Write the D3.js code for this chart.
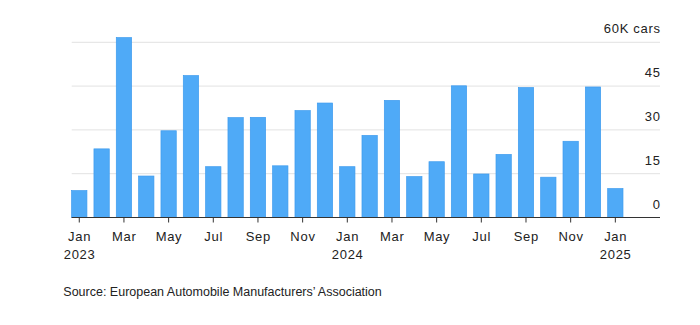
<!DOCTYPE html>
<html>
<head>
<meta charset="utf-8">
<script src="https://cdn.jsdelivr.net/npm/d3@7"></script>
<style>
  html, body { margin: 0; padding: 0; background: #fff; }
  svg { display: block; font-family: "Liberation Sans", Arial, Helvetica, sans-serif; }
</style>
</head>
<body>
<svg id="chart" width="700" height="325"></svg>
<script>
// Monthly registrations, thousands of cars, Jan 2023 – Jan 2025
const months = [
  "2023-01", "2023-02", "2023-03", "2023-04", "2023-05", "2023-06",
  "2023-07", "2023-08", "2023-09", "2023-10", "2023-11", "2023-12",
  "2024-01", "2024-02", "2024-03", "2024-04", "2024-05", "2024-06",
  "2024-07", "2024-08", "2024-09", "2024-10", "2024-11", "2024-12",
  "2025-01"
];
const cars = [
  9.2, 23.5, 61.6, 14.2, 29.7, 48.6,
  17.4, 34.2, 34.3, 17.7, 36.6, 39.2,
  17.4, 28.1, 40.1, 14.0, 19.1, 45.1,
  14.9, 21.6, 44.5, 13.8, 26.1, 44.7,
  9.9
];
const yTicks = [0, 15, 30, 45, 60];
const monthNames = ["Jan", "Feb", "Mar", "Apr", "May", "Jun", "Jul", "Aug", "Sep", "Oct", "Nov", "Dec"];
const sourceNote = "Source: European Automobile Manufacturers’ Association";

const svg = d3.select("#chart");
const textColor = "#222";
const gridLeft = 71.7, gridRight = 660;
const labelSpacing = 0.7;

const x = d3.scaleBand()
  .domain(months)
  .range([68.1, 626.5])
  .paddingInner(0.315)
  .paddingOuter(0.1575);

const y = d3.scaleLinear()
  .domain([0, 60])
  .range([217.5, 42.3]);

// Horizontal grid lines
svg.append("g")
  .selectAll("line")
  .data(yTicks.filter(d => d !== 0))
  .join("line")
  .attr("x1", gridLeft)
  .attr("x2", gridRight)
  .attr("y1", d => y(d))
  .attr("y2", d => y(d))
  .attr("stroke", "#e2e2e2")
  .attr("stroke-width", 1);

// Value labels, sitting above each grid line on the right
svg.append("g")
  .selectAll("text")
  .data(yTicks)
  .join("text")
  .attr("x", gridRight + labelSpacing)
  .attr("y", d => y(d) - 9)
  .attr("text-anchor", "end")
  .attr("font-size", 13)
  .attr("letter-spacing", labelSpacing)
  .attr("fill", textColor)
  .text(d => d === 60 ? "60K cars" : d);

// Bars
svg.append("g")
  .selectAll("rect")
  .data(months.map((m, i) => ({ m, v: cars[i] })))
  .join("rect")
  .attr("x", d => x(d.m))
  .attr("width", x.bandwidth())
  .attr("y", d => y(d.v))
  .attr("height", d => y(0) - y(d.v))
  .attr("fill", "#4faaf7")
  .attr("stroke", "#3d9bee")
  .attr("stroke-width", 0.7);

// Baseline
svg.append("line")
  .attr("x1", gridLeft)
  .attr("x2", gridRight)
  .attr("y1", y(0))
  .attr("y2", y(0))
  .attr("stroke", "#333")
  .attr("stroke-width", 1);

// Bottom axis: a tick every second month
const tickMonths = months.filter((m, i) => i % 2 === 0);
const xAxis = d3.axisBottom(x)
  .tickValues(tickMonths)
  .tickSize(5)
  .tickSizeOuter(0)
  .tickFormat(() => "");

const axisG = svg.append("g")
  .attr("transform", `translate(0,${y(0)})`)
  .call(xAxis);
axisG.select(".domain").remove();
axisG.selectAll(".tick line").attr("stroke", "#333");
axisG.selectAll(".tick text").remove();

const labels = svg.append("g")
  .selectAll("g")
  .data(tickMonths)
  .join("g")
  .attr("transform", m => `translate(${x(m) + x.bandwidth() / 2 + labelSpacing / 2},0)`);

labels.append("text")
  .attr("y", 241)
  .attr("text-anchor", "middle")
  .attr("font-size", 13)
  .attr("letter-spacing", labelSpacing)
  .attr("fill", textColor)
  .text(m => monthNames[+m.slice(5) - 1]);

labels.filter(m => m.endsWith("-01"))
  .append("text")
  .attr("y", 258.7)
  .attr("text-anchor", "middle")
  .attr("font-size", 13)
  .attr("letter-spacing", labelSpacing)
  .attr("fill", textColor)
  .text(m => m.slice(0, 4));

// Source note
svg.append("text")
  .attr("x", 63.3)
  .attr("y", 296)
  .attr("font-size", 12.5)
  .attr("fill", textColor)
  .text(sourceNote);
</script>
</body>
</html>
